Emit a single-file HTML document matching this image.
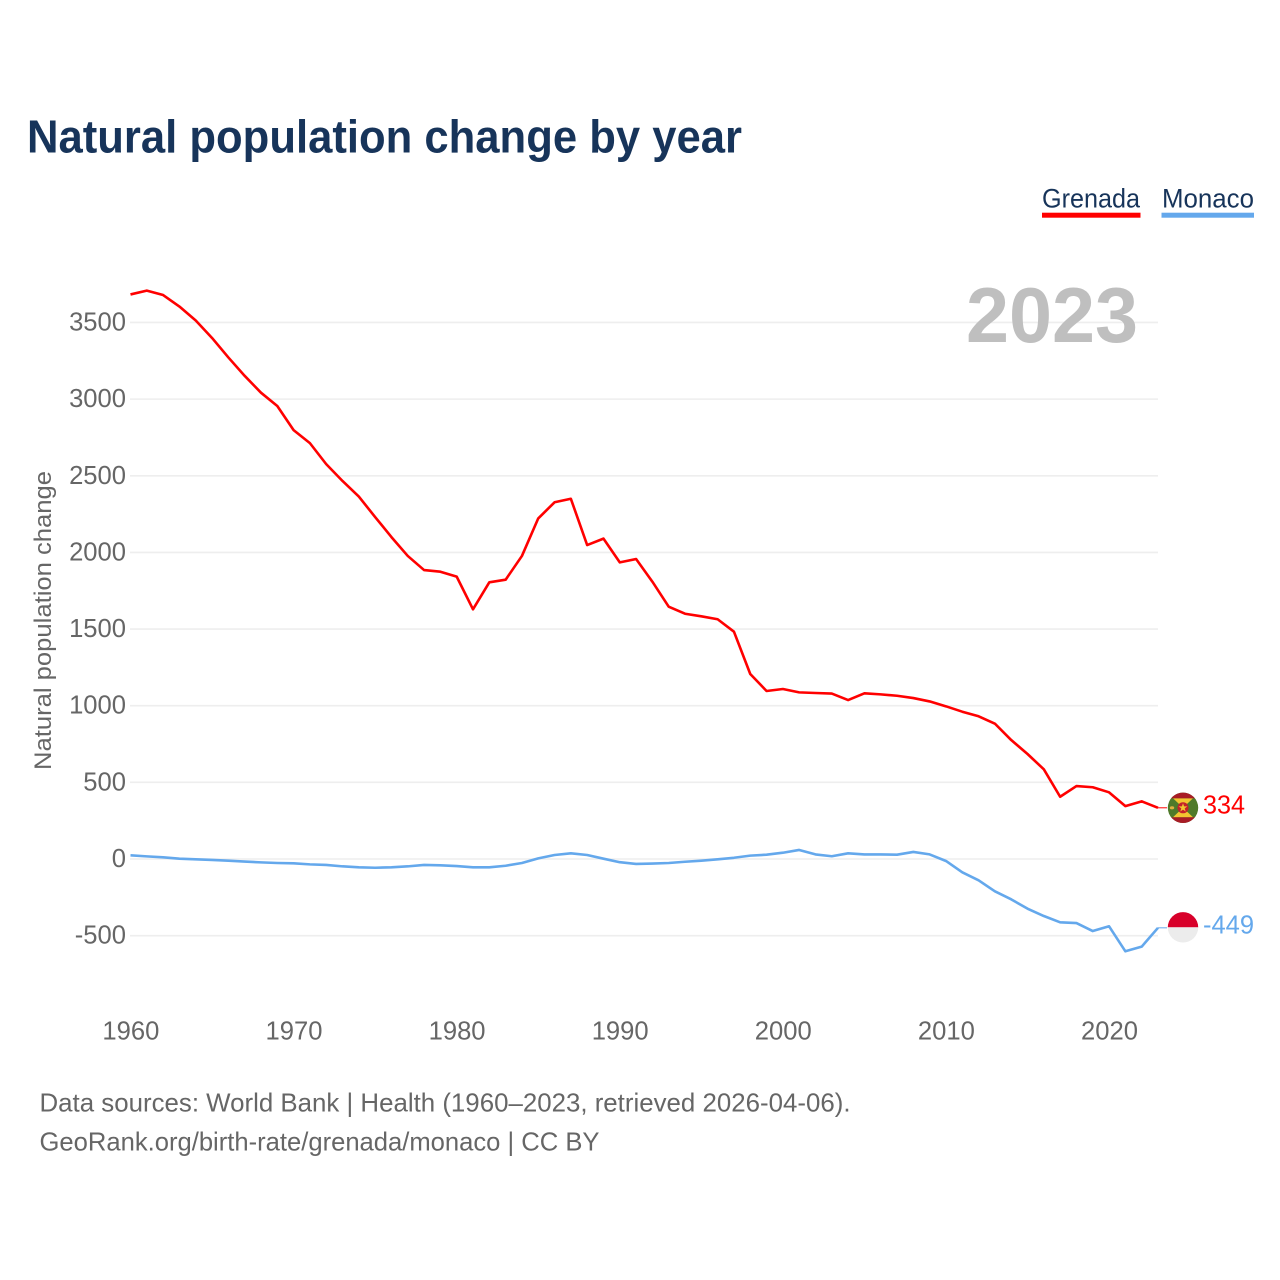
<!DOCTYPE html>
<html lang="en">
<head>
<meta charset="utf-8">
<title>Natural population change by year</title>
<style>
html,body{margin:0;padding:0;background:#fff;}
body{width:1280px;height:1280px;overflow:hidden;}
svg{display:block;font-family:"Liberation Sans",sans-serif;}
</style>
</head>
<body>
<svg id="chart" width="1280" height="1280" viewBox="0 0 1280 1280" xmlns="http://www.w3.org/2000/svg">
  <defs>
    <clipPath id="flag-clip"><circle cx="0" cy="0" r="15.2"></circle></clipPath>
  </defs>
  <rect x="0" y="0" width="1280" height="1280" fill="#ffffff"></rect>
  <text x="27" y="152.5" font-size="46.5" font-weight="700" fill="#17345a" textLength="715" lengthAdjust="spacingAndGlyphs">Natural population change by year</text>

  <g>
    <text x="1042" y="207.5" font-size="27" fill="#17345a" textLength="98" lengthAdjust="spacingAndGlyphs">Grenada</text>
    <rect x="1042" y="212.7" width="98.5" height="5" fill="#ff0000"></rect>
  </g>
  <g>
    <text x="1162" y="207.5" font-size="27" fill="#17345a" textLength="92" lengthAdjust="spacingAndGlyphs">Monaco</text>
    <rect x="1161.5" y="212.7" width="92.5" height="5" fill="#64a8ec"></rect>
  </g>

  <g id="grid"></g>
  <text x="966" y="342" font-size="78" font-weight="700" fill="#bfbfbf" textLength="172" lengthAdjust="spacingAndGlyphs">2023</text>
  <g id="y-ticks"></g>
  <g id="x-ticks"></g>
  <text transform="translate(51 620.5) rotate(-90)" text-anchor="middle" font-size="24.5" fill="#666666" textLength="299" lengthAdjust="spacingAndGlyphs">Natural population change</text>
  <g id="series"></g>

  <g id="flag-grenada">
    <g clip-path="url(#flag-clip)">
      <rect x="-16" y="-16" width="32" height="32" fill="#4f7a2a"></rect>
      <polygon points="-10,-9.5 10,-9.5 0,0" fill="#f2c530"></polygon>
      <polygon points="-10,9.5 10,9.5 0,0" fill="#f2c530"></polygon>
      <rect x="-16" y="-16" width="32" height="6.5" fill="#a81c26"></rect>
      <rect x="-16" y="9.5" width="32" height="6.5" fill="#a81c26"></rect>
      <circle cx="0" cy="0" r="5.5" fill="#c4202a"></circle>
      <polygon points="0,-4.6 1.1,-1.4 4.4,-1.4 1.7,0.6 2.7,3.7 0,1.8 -2.7,3.7 -1.7,0.6 -4.4,-1.4 -1.1,-1.4" fill="#f2c530"></polygon>
      <ellipse cx="-11" cy="0" rx="2.2" ry="1.6" fill="#e0b040"></ellipse>
    </g>
  </g>
  <g id="flag-monaco">
    <g clip-path="url(#flag-clip)">
      <rect x="-16" y="-16" width="32" height="16" fill="#d8002a"></rect>
      <rect x="-16" y="0" width="32" height="16" fill="#ececec"></rect>
    </g>
  </g>
  <g id="value-labels"></g>

  <text x="39.5" y="1111.5" font-size="26" fill="#666666" textLength="811" lengthAdjust="spacingAndGlyphs">Data sources: World Bank | Health (1960–2023, retrieved 2026-04-06).</text>
  <text x="39.5" y="1150.5" font-size="26" fill="#666666" textLength="560" lengthAdjust="spacingAndGlyphs">GeoRank.org/birth-rate/grenada/monaco | CC BY</text>
</svg>
<script>
const firstYear = 1960;
const yearTicks = [1960, 1970, 1980, 1990, 2000, 2010, 2020];
const valueTicks = [-500, 0, 500, 1000, 1500, 2000, 2500, 3000, 3500];
const grenadaValues = [3683, 3708, 3679, 3604, 3513, 3399, 3272, 3152, 3042, 2955,
  2798, 2713, 2576, 2466, 2364, 2231, 2100, 1977, 1885, 1874,
  1842, 1629, 1805, 1822, 1977, 2222, 2327, 2350, 2048, 2090,
  1935, 1957, 1809, 1646, 1600, 1583, 1564, 1483, 1207, 1096,
  1109, 1087, 1083, 1079, 1037, 1081, 1074, 1065, 1050, 1028,
  996, 961, 931, 883, 776, 685, 585, 406, 476, 468,
  435, 345, 376, 334];
const monacoValues = [24, 17, 11, 2, -2, -6, -11, -17, -22, -26,
  -28, -35, -39, -48, -54, -57, -54, -48, -39, -41,
  -46, -54, -54, -44, -26, 4, 26, 37, 26, 2,
  -21, -32, -30, -26, -18, -11, -2, 8, 22, 28,
  41, 59, 30, 18, 37, 30, 30, 28, 46, 30,
  -13, -87, -139, -211, -263, -324, -372, -413, -418, -470,
  -439, -602, -572, -449];

const NS = 'http://www.w3.org/2000/svg';
function xScale(year) { return 130.5 + (year - 1960) * (1158 - 130.5) / 63; }
function yScale(value) { return 859 - value * 0.15329; }
function make(tag, attrs) {
  const el = document.createElementNS(NS, tag);
  for (const k in attrs) el.setAttribute(k, attrs[k]);
  return el;
}

const gridGroup = document.getElementById('grid');
const yTickGroup = document.getElementById('y-ticks');
valueTicks.forEach(function (v) {
  const line = make('line', { x1: 130, x2: 1158, y1: yScale(v), y2: yScale(v), stroke: '#eeeeee', 'stroke-width': 1.6 });
  
  
  gridGroup.appendChild(line);
  const label = make('text', { x: 126, y: yScale(v) + 8, 'text-anchor': 'end', 'font-size': 25.6, fill: '#666666' });
  
  
  label.textContent = String(v);
  yTickGroup.appendChild(label);
});

const xTickGroup = document.getElementById('x-ticks');
yearTicks.forEach(function (y) {
  const label = make('text', { x: xScale(y) + 0.4, y: 1039.5, 'text-anchor': 'middle', 'font-size': 25.6, fill: '#666666' });
  
  
  label.textContent = String(y);
  xTickGroup.appendChild(label);
});

function pathFor(values) {
  return values.map(function (v, i) {
    return (i ? 'L' : 'M') + xScale(firstYear + i).toFixed(2) + ' ' + yScale(v).toFixed(2);
  }).join(' ');
}
const seriesGroup = document.getElementById('series');

const grenadaLine = make('path', { d: pathFor(grenadaValues), fill: 'none', stroke: '#ff0000', 'stroke-width': 2.6, 'stroke-linejoin': 'round' });


seriesGroup.appendChild(grenadaLine);

const monacoLine = make('path', { d: pathFor(monacoValues), fill: 'none', stroke: '#64a8ec', 'stroke-width': 2.6, 'stroke-linejoin': 'round' });


seriesGroup.appendChild(monacoLine);

const lastX = xScale(firstYear + grenadaValues.length - 1);
const grenadaLast = grenadaValues[grenadaValues.length - 1];
const monacoLast = monacoValues[monacoValues.length - 1];

const grenadaLeader = make('line', { x1: lastX, x2: lastX + 9, y1: yScale(grenadaLast), y2: yScale(grenadaLast), stroke: '#ff0000', 'stroke-width': 1 });


seriesGroup.appendChild(grenadaLeader);

const monacoLeader = make('line', { x1: lastX, x2: lastX + 9, y1: yScale(monacoLast), y2: yScale(monacoLast), stroke: '#64a8ec', 'stroke-width': 1 });


seriesGroup.appendChild(monacoLeader);

document.getElementById('flag-grenada').setAttribute('transform', 'translate(1183 ' + yScale(grenadaLast).toFixed(2) + ')');
document.getElementById('flag-monaco').setAttribute('transform', 'translate(1183 ' + (yScale(monacoLast) - 0.5).toFixed(2) + ')');

const valueGroup = document.getElementById('value-labels');
const grenadaValue = make('text', { x: 1203, y: yScale(grenadaLast) + 5.5, 'font-size': 25.6, fill: '#ff0000', textLength: 42, lengthAdjust: 'spacingAndGlyphs' });


grenadaValue.textContent = String(grenadaLast);
valueGroup.appendChild(grenadaValue);

const monacoValue = make('text', { x: 1203, y: yScale(monacoLast) + 5.5, 'font-size': 25.6, fill: '#64a8ec', textLength: 51, lengthAdjust: 'spacingAndGlyphs' });


monacoValue.textContent = String(monacoLast);
valueGroup.appendChild(monacoValue);
</script>
</body>
</html>
